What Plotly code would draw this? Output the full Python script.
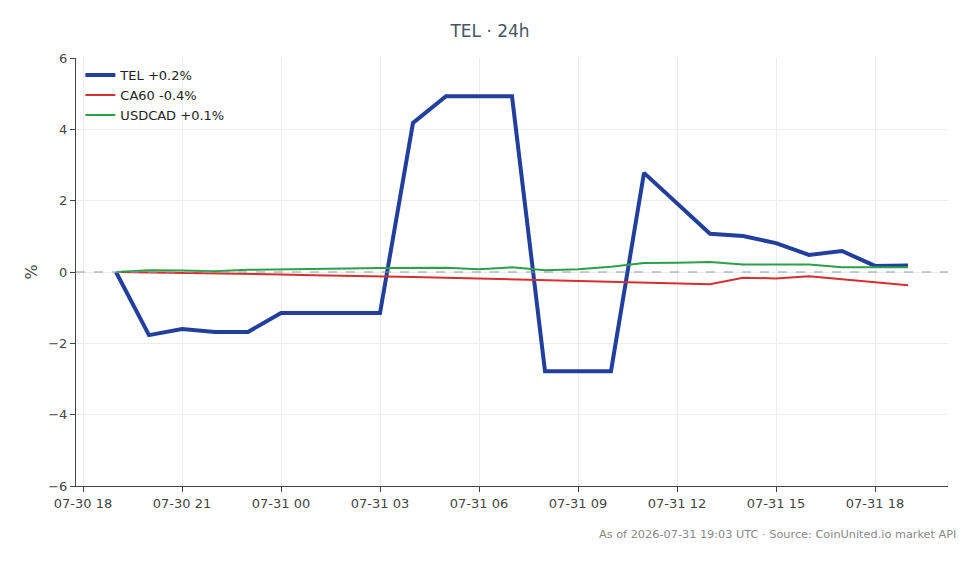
import plotly.graph_objects as go
import pandas as pd

times = pd.date_range("2026-07-30 19:00", "2026-07-31 19:00", freq="h")

tel = [0.0, -1.77, -1.6, -1.68, -1.68, -1.15, -1.15, -1.15, -1.15, 4.18, 4.93, 4.93, 4.93,
       -2.78, -2.78, -2.78, 2.78, 1.93, 1.07, 1.01, 0.81, 0.48, 0.59, 0.17, 0.18]
ca60 = [0.0, -0.01, -0.03, -0.04, -0.06, -0.07, -0.09, -0.1, -0.12, -0.14, -0.16, -0.18, -0.2,
        -0.22, -0.24, -0.26, -0.28, -0.31, -0.34, -0.16, -0.18, -0.12, -0.21, -0.3, -0.37]
usdcad = [0.0, 0.05, 0.04, 0.02, 0.06, 0.08, 0.1, 0.1, 0.11, 0.12, 0.12, 0.08, 0.13,
          0.05, 0.08, 0.15, 0.25, 0.26, 0.28, 0.21, 0.21, 0.21, 0.13, 0.13, 0.13]

names = ["TEL +0.2%", "CA60 -0.4%", "USDCAD +0.1%"]
colors = ["#233f9e", "#d62f2f", "#2ca048"]
widths = [4, 2, 2]

fig = go.Figure()
for y, n, c, w in zip([tel, ca60, usdcad], names, colors, widths):
    fig.add_trace(go.Scatter(x=times, y=y, mode="lines", name=n,
                             line=dict(color=c, width=w)))

fig.add_hline(y=0, line=dict(color="#8a9bb0", width=1, dash="dash"))

fig.update_layout(
    width=980, height=564,
    margin=dict(l=76, r=32, t=58, b=78),
    paper_bgcolor="white", plot_bgcolor="white",
    font=dict(family="DejaVu Sans", size=13, color="#444"),
    title=dict(text="TEL · 24h", x=0.5, xanchor="center", y=0.945, yanchor="middle",
               font=dict(size=17, color="#445566")),
    legend=dict(x=0.005, y=0.995, xanchor="left", yanchor="top",
                bgcolor="rgba(255,255,255,0)", font=dict(size=13, color="#222"),
                tracegroupgap=0),
    showlegend=True,
)
fig.update_xaxes(
    range=["2026-07-30 17:47:16", "2026-07-31 20:12:44"],
    tickformat="%m-%d %H", dtick=3 * 3600 * 1000, tick0="2026-07-30 18:00",
    showgrid=True, gridcolor="#ececec", showline=True, linecolor="#444", linewidth=1,
    ticks="outside", ticklen=5, tickcolor="#444", zeroline=False,
)
fig.update_yaxes(
    range=[-6, 6], dtick=2, title=dict(text="%", standoff=6),
    showgrid=True, gridcolor="#ececec", showline=True, linecolor="#444", linewidth=1,
    ticks="outside", ticklen=5, tickcolor="#444", zeroline=False,
)
fig.add_annotation(text="As of 2026-07-31 19:03 UTC · Source: CoinUnited.io market API",
                   xref="paper", yref="paper", x=1.0115, y=-0.093, xanchor="right", yanchor="top",
                   showarrow=False, font=dict(size=11.3, color="#888"))

fig.write_html("out.html")
